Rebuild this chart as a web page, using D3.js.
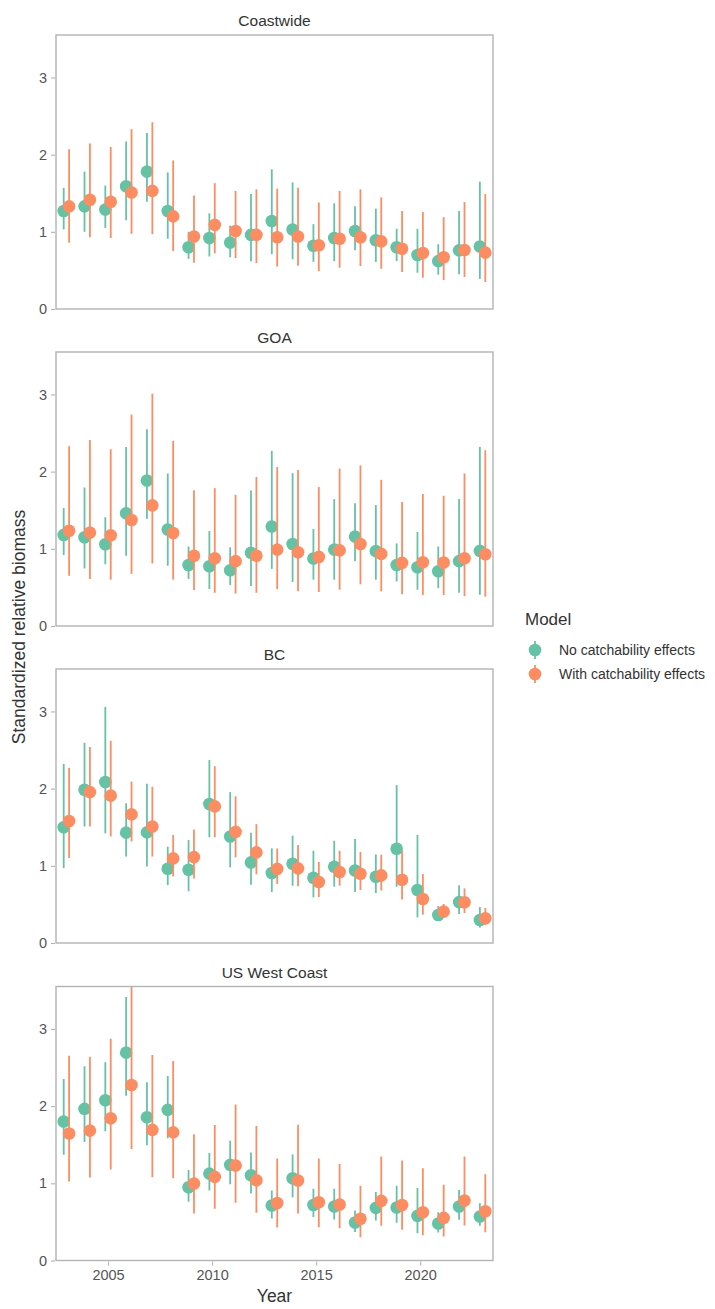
<!DOCTYPE html>
<html>
<head>
<meta charset="utf-8">
<script src="https://cdn.jsdelivr.net/npm/d3@7"></script>
<style>
  body { margin: 0; background: #fff; }
  text { font-family: "Liberation Sans", Arial, sans-serif; }
</style>
</head>
<body>
<div id="chart"></div>
<script>
// years and facets
const years = d3.range(2003, 2024);
const regions = ["Coastwide", "GOA", "BC", "US West Coast"];
const models = ["No catchability effects", "With catchability effects"];
const yTicks = [0, 1, 2, 3];
const xTicks = [2005, 2010, 2015, 2020];

// Coastwide
const coastNoEst = [1.27,1.33,1.29,1.59,1.78,1.27,0.80,0.92,0.86,0.96,1.14,1.03,0.82,0.92,1.01,0.89,0.80,0.70,0.62,0.76,0.81];
const coastNoLo  = [1.03,1.00,1.05,1.15,1.39,0.91,0.65,0.68,0.67,0.62,0.71,0.645,0.61,0.62,0.76,0.61,0.62,0.47,0.445,0.45,0.39];
const coastNoHi  = [1.57,1.78,1.60,2.17,2.28,1.77,1.00,1.24,1.08,1.49,1.81,1.64,1.10,1.37,1.33,1.30,1.04,1.04,0.84,1.27,1.65];
const coastQEst  = [1.33,1.415,1.39,1.51,1.53,1.20,0.94,1.09,1.01,0.96,0.93,0.94,0.825,0.91,0.93,0.876,0.78,0.725,0.67,0.764,0.73];
const coastQLo   = [0.86,0.93,0.92,0.975,0.97,0.75,0.60,0.72,0.66,0.595,0.55,0.56,0.49,0.535,0.557,0.522,0.48,0.406,0.375,0.414,0.35];
const coastQHi   = [2.07,2.145,2.10,2.33,2.42,1.925,1.47,1.63,1.53,1.55,1.56,1.57,1.38,1.53,1.55,1.446,1.27,1.256,1.19,1.385,1.49];

// GOA
const goaNoEst = [1.18,1.15,1.06,1.46,1.885,1.25,0.79,0.775,0.723,0.95,1.29,1.063,0.874,0.99,1.158,0.97,0.79,0.762,0.71,0.84,0.973];
const goaNoLo  = [0.92,0.745,0.80,0.91,1.39,0.78,0.61,0.48,0.53,0.517,0.74,0.57,0.60,0.60,0.84,0.60,0.577,0.47,0.49,0.43,0.405];
const goaNoHi  = [1.53,1.795,1.41,2.32,2.55,1.976,1.03,1.23,1.02,1.756,2.27,1.98,1.257,1.644,1.59,1.567,1.07,1.218,1.03,1.644,2.32];
const goaQEst  = [1.235,1.21,1.175,1.373,1.563,1.205,0.91,0.878,0.84,0.91,0.99,0.955,0.895,0.98,1.063,0.934,0.818,0.826,0.822,0.878,0.93];
const goaQLo   = [0.65,0.61,0.60,0.676,0.81,0.60,0.465,0.43,0.42,0.43,0.478,0.45,0.44,0.47,0.54,0.45,0.41,0.40,0.40,0.387,0.38];
const goaQHi   = [2.33,2.41,2.29,2.74,3.01,2.40,1.76,1.786,1.70,1.93,2.06,2.02,1.80,2.04,2.08,1.894,1.606,1.71,1.687,1.976,2.277];

// BC
const bcNoEst = [1.50,1.985,2.085,1.43,1.433,0.962,0.95,1.80,1.38,1.044,0.906,1.027,0.846,0.988,0.94,0.859,1.221,0.686,0.363,0.53,0.298];
const bcNoLo  = [0.97,1.51,1.42,1.12,0.99,0.75,0.67,1.37,0.98,0.755,0.66,0.742,0.59,0.73,0.66,0.647,0.73,0.332,0.293,0.375,0.20];
const bcNoHi  = [2.32,2.594,3.06,1.81,2.063,1.247,1.334,2.37,1.955,1.43,1.226,1.39,1.195,1.325,1.347,1.148,2.046,1.40,0.479,0.747,0.466];
const bcQEst  = [1.58,1.955,1.91,1.666,1.51,1.096,1.113,1.77,1.44,1.174,0.96,0.967,0.79,0.919,0.898,0.876,0.82,0.57,0.406,0.527,0.32];
const bcQLo   = [1.10,1.51,1.38,1.316,1.12,0.863,0.837,1.37,1.11,0.89,0.766,0.734,0.596,0.742,0.686,0.68,0.565,0.367,0.324,0.388,0.23];
const bcQHi   = [2.27,2.54,2.62,2.09,2.024,1.40,1.47,2.29,1.90,1.54,1.224,1.27,1.05,1.195,1.178,1.144,1.195,0.893,0.505,0.708,0.453];

// US West Coast
const wcNoEst = [1.80,1.964,2.076,2.693,1.856,1.951,0.95,1.126,1.239,1.105,0.712,1.066,0.72,0.70,0.492,0.682,0.686,0.578,0.479,0.70,0.57];
const wcNoLo  = [1.37,1.536,1.675,2.136,1.493,1.584,0.76,0.906,0.988,0.867,0.544,0.82,0.565,0.53,0.37,0.518,0.488,0.354,0.363,0.527,0.449];
const wcNoHi  = [2.35,2.516,2.568,3.414,2.31,2.39,1.174,1.394,1.55,1.40,0.906,1.372,0.928,0.928,0.647,0.889,0.967,0.94,0.626,0.915,0.742];
const wcQEst  = [1.645,1.683,1.843,2.274,1.692,1.66,0.997,1.083,1.23,1.04,0.745,1.036,0.755,0.725,0.54,0.773,0.72,0.626,0.552,0.777,0.639];
const wcQLo   = [1.023,1.075,1.178,1.446,1.079,1.066,0.609,0.669,0.747,0.62,0.427,0.608,0.43,0.418,0.30,0.449,0.397,0.328,0.31,0.453,0.367];
const wcQHi   = [2.654,2.64,2.874,3.70,2.663,2.585,1.636,1.757,2.02,1.744,1.32,1.76,1.32,1.25,0.967,1.347,1.295,1.195,0.98,1.347,1.118];

const series = [
    [[coastNoEst, coastNoLo, coastNoHi], [coastQEst, coastQLo, coastQHi]],
    [[goaNoEst, goaNoLo, goaNoHi], [goaQEst, goaQLo, goaQHi]],
    [[bcNoEst, bcNoLo, bcNoHi], [bcQEst, bcQLo, bcQHi]],
    [[wcNoEst, wcNoLo, wcNoHi], [wcQEst, wcQLo, wcQHi]]
];

const colors = ["#66C2A5", "#FC8D62"];
const dodge = [-0.13, 0.13];

let width = 715, height = 1309;
let left = 56, right = 493;
let panelTop = [35, 352, 669, 986.5];
let panelH = 274;

let svg = d3.select('#chart')
    .append('svg')
    .attr('width', width)
    .attr('height', height);

let x = d3.scaleLinear().domain([2002.5, 2023.5]).range([left, right]);

regions.forEach(function(name, i){
    let top = panelTop[i];
    let y = d3.scaleLinear().domain([0, 3.55]).range([top + panelH, top]);

    let g = svg.append('g');

    // strip title
    g.append('text')
        .attr('x', (left + right) / 2)
        .attr('y', top - 9)
        .attr('text-anchor', 'middle')
        .style('font-size', '15.5px')
        .style('fill', '#333')
        .text(name);

    // y axis
    let yAxis = d3.axisLeft(y).tickValues(yTicks).tickSize(4).tickPadding(4).tickFormat(d3.format('d'));
    let ya = g.append('g')
        .attr('transform', 'translate(' + (left - 1) + ',0)')
        .call(yAxis);
    ya.select('.domain').remove();
    ya.selectAll('line').attr('stroke', '#b3b3b3').attr('stroke-width', 1.1);
    ya.selectAll('text').style('font-size', '14.5px').style('fill', '#555')
        .style('font-family', '"Liberation Sans", Arial, sans-serif');

    // x axis on bottom panel only
    if (i === regions.length - 1) {
        let xAxis = d3.axisBottom(x).tickValues(xTicks).tickSize(4).tickPadding(4).tickFormat(d3.format('d'));
        let xa = g.append('g')
            .attr('transform', 'translate(0,' + (top + panelH + 1) + ')')
            .call(xAxis);
        xa.select('.domain').remove();
        xa.selectAll('line').attr('stroke', '#b3b3b3').attr('stroke-width', 1.1);
        xa.selectAll('text').style('font-size', '14.5px').style('fill', '#555')
            .style('font-family', '"Liberation Sans", Arial, sans-serif');
    }

    // clip
    let clipId = 'clip' + i;
    svg.append('clipPath').attr('id', clipId)
        .append('rect')
        .attr('x', left).attr('y', top)
        .attr('width', right - left).attr('height', panelH);

    let plot = g.append('g').attr('clip-path', 'url(#' + clipId + ')');

    series[i].forEach(function(s, m){
        let pts = years.map(function(yr, k){
            return { year: yr, est: s[0][k], lo: s[1][k], hi: s[2][k] };
        });
        let grp = plot.append('g');
        grp.selectAll('.bar')
            .data(pts)
            .enter().append('line')
            .attr('x1', function(d){ return x(d.year + dodge[m]); })
            .attr('x2', function(d){ return x(d.year + dodge[m]); })
            .attr('y1', function(d){ return y(d.lo); })
            .attr('y2', function(d){ return y(d.hi); })
            .attr('stroke', colors[m])
            .attr('stroke-width', 1.8);
        grp.selectAll('.pt')
            .data(pts)
            .enter().append('circle')
            .attr('cx', function(d){ return x(d.year + dodge[m]); })
            .attr('cy', function(d){ return y(d.est); })
            .attr('r', 6.3)
            .attr('fill', colors[m]);
    });

    // panel border
    g.append('rect')
        .attr('x', left).attr('y', top)
        .attr('width', right - left).attr('height', panelH)
        .attr('fill', 'none')
        .attr('stroke', '#b3b3b3')
        .attr('stroke-width', 1.4);
});

// axis titles
svg.append('text')
    .attr('transform', 'translate(25,627) rotate(-90)')
    .attr('text-anchor', 'middle')
    .style('font-size', '17.5px')
    .style('fill', '#333')
    .text('Standardized relative biomass');

svg.append('text')
    .attr('x', (left + right) / 2)
    .attr('y', 1302)
    .attr('text-anchor', 'middle')
    .style('font-size', '17.5px')
    .style('fill', '#333')
    .text('Year');

// legend
let legend = svg.append('g');
legend.append('text')
    .attr('x', 525).attr('y', 625)
    .style('font-size', '17px')
    .style('fill', '#333')
    .text('Model');

models.forEach(function(mName, m){
    let ly = 650 + m * 24;
    legend.append('line')
        .attr('x1', 535).attr('x2', 535)
        .attr('y1', ly - 9).attr('y2', ly + 9)
        .attr('stroke', colors[m]).attr('stroke-width', 1.8);
    legend.append('circle')
        .attr('cx', 535).attr('cy', ly).attr('r', 6.3)
        .attr('fill', colors[m]);
    legend.append('text')
        .attr('x', 559).attr('y', ly)
        .attr('dy', '0.35em')
        .style('font-size', '14px')
        .style('fill', '#333')
        .text(mName);
});
</script>
</body>
</html>
